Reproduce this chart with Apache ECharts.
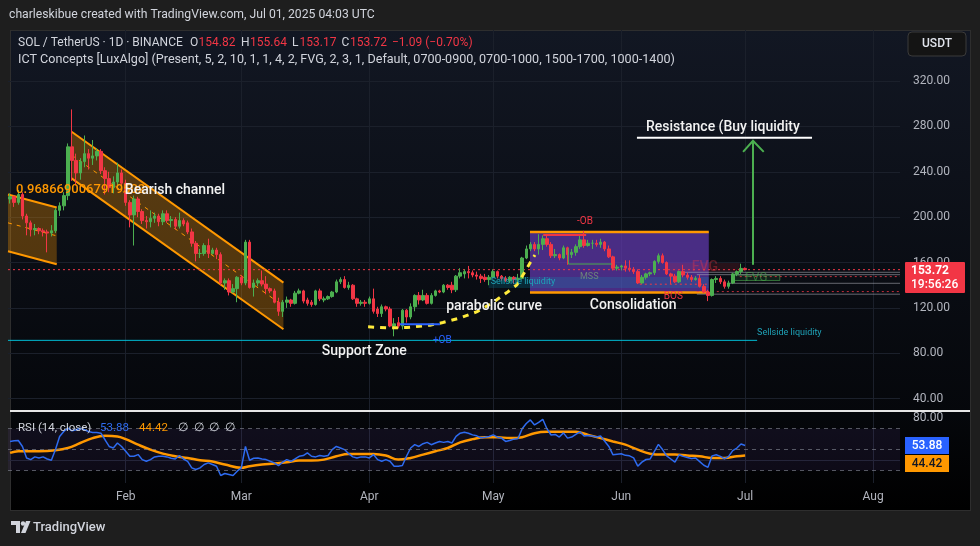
<!DOCTYPE html>
<html>
<head>
<meta charset="utf-8">
<title>SOL / TetherUS 1D</title>
<script src="https://cdn.jsdelivr.net/npm/echarts@6/dist/echarts.min.js"></script>
<style>
  html, body { margin: 0; padding: 0; background: #1e1e1e; }
  #wrap { position: relative; width: 980px; height: 546px; overflow: hidden; }
  #panel { position: absolute; left: 10px; top: 30px; width: 959px; height: 479px;
           border: 1px solid #2e2e2e; background: linear-gradient(#121723, #05070b 80%, #000); }
  #main { position: absolute; left: 0; top: 0; width: 980px; height: 546px; }
</style>
</head>
<body>
<div id="wrap">
  <div id="panel"></div>
  <div id="main"></div>
</div>
<script>
// x = day index, 0 = 2025-01-04 ... 178 = 2025-07-01
var monthTicks = [28, 56, 87, 117, 148, 178, 209];
var monthNames = ["Feb", "Mar", "Apr", "May", "Jun", "Jul", "Aug"];
var priceTicks = [40, 80, 120, 160, 200, 240, 280, 320];

// daily candles [open, close, low, high]
var candles = [
  [216, 218, 212, 221], [218, 213, 209, 219], [213, 220, 211, 224], [220, 201, 198, 222],
  [201, 195, 184, 203], [195, 189, 183, 197], [189, 190, 184, 194], [190, 188, 185, 191],
  [188, 187, 183, 190], [187, 186, 169, 189], [186, 188, 183, 193], [188, 206, 186, 208],
  [206, 210, 201, 213], [210, 219, 206, 222], [219, 262, 215, 265], [262, 250, 232, 295],
  [250, 239, 228, 256], [239, 249, 233, 252], [249, 256, 244, 272], [256, 252, 242, 260],
  [252, 254, 246, 268], [254, 258, 250, 261], [258, 241, 238, 260], [241, 234, 220, 244],
  [234, 226, 222, 240], [226, 231, 221, 236], [231, 239, 226, 248], [239, 230, 226, 242],
  [230, 213, 210, 233], [213, 202, 191, 215], [202, 216, 175, 219], [216, 205, 200, 218],
  [205, 197, 194, 207], [197, 196, 190, 201], [196, 199, 191, 206], [199, 201, 195, 204],
  [201, 196, 192, 203], [196, 203, 193, 206], [203, 197, 195, 206], [197, 198, 191, 201],
  [198, 192, 189, 200], [192, 197, 190, 204], [197, 194, 192, 199], [195, 187, 185, 197],
  [187, 177, 174, 190], [177, 168, 161, 179], [168, 168, 164, 172], [168, 175, 166, 177],
  [175, 168, 164, 181], [168, 171, 167, 173], [171, 167, 163, 173], [167, 142, 140, 169],
  [142, 144, 136, 146], [144, 134, 131, 146], [134, 137, 133, 141], [137, 147, 125, 148],
  [147, 142, 140, 149], [142, 178, 140, 180], [178, 138, 137, 180], [138, 142, 130, 145],
  [142, 144, 139, 146], [144, 141, 139, 153], [141, 137, 132, 148], [137, 135, 133, 138],
  [135, 125, 124, 137], [125, 117, 113, 129], [117, 125, 112, 127], [125, 127, 120, 130],
  [127, 124, 121, 128], [124, 133, 123, 135], [133, 135, 132, 137], [135, 126, 124, 136],
  [127, 124, 122, 129], [125, 123, 121, 127], [123, 135, 122, 136], [135, 128, 126, 137],
  [127, 128, 125, 130], [128, 130, 127, 131], [130, 134, 129, 135], [134, 143, 133, 145],
  [143, 145, 141, 147], [145, 138, 137, 148], [138, 140, 136, 143], [140, 128, 127, 141],
  [128, 124, 121, 129], [124, 125, 122, 127], [125, 124, 121, 127], [124, 128, 123, 130],
  [128, 117, 115, 137], [119, 115, 112, 121], [115, 121, 112, 123], [121, 119, 117, 122],
  [119, 104, 103, 121], [104, 106, 95, 111], [107, 104, 102, 112], [104, 118, 101, 119],
  [118, 112, 107, 119], [112, 121, 110, 124], [121, 131, 117, 132], [131, 127, 123, 134],
  [127, 131, 126, 136], [131, 124, 123, 133], [124, 131, 123, 133], [131, 135, 130, 136],
  [135, 134, 133, 136], [134, 140, 133, 141], [140, 138, 136, 141], [140, 136, 133, 143],
  [136, 148, 134, 149], [148, 151, 146, 155], [150, 152, 146, 154], [152, 151, 146, 157],
  [151, 149, 147, 153], [149, 148, 145, 152], [148, 146, 142, 150], [147, 145, 143, 150],
  [145, 147, 140, 149], [147, 152, 146, 154], [152, 148, 146, 153], [148, 146, 144, 149],
  [146, 144, 143, 148], [144, 147, 142, 148], [147, 145, 141, 148], [145, 146, 143, 150],
  [146, 164, 145, 165], [164, 172, 163, 175], [172, 176, 170, 178], [176, 172, 170, 178],
  [172, 176, 167, 185], [176, 181, 171, 184], [181, 176, 174, 184], [176, 166, 164, 178],
  [166, 167, 164, 172], [167, 164, 162, 168], [164, 173, 163, 175], [173, 167, 158, 174],
  [167, 169, 164, 172], [169, 174, 166, 176], [174, 180, 172, 184], [180, 175, 173, 188],
  [175, 177, 174, 180], [177, 177, 172, 180], [177, 176, 174, 180], [176, 178, 173, 181],
  [178, 172, 170, 179], [172, 165, 164, 175], [165, 155, 153, 166], [155, 156, 153, 158],
  [156, 157, 153, 158], [157, 155, 152, 162], [155, 154, 152, 162], [154, 152, 150, 156],
  [152, 142, 141, 154], [142, 147, 141, 149], [147, 150, 145, 151], [150, 151, 148, 152],
  [151, 161, 149, 162], [161, 166, 159, 168], [166, 160, 159, 168], [160, 150, 149, 161],
  [150, 148, 141, 151], [148, 143, 142, 150], [143, 152, 142, 153], [152, 149, 147, 158],
  [149, 147, 145, 151], [147, 145, 143, 149], [145, 146, 144, 148], [146, 139, 138, 149],
  [139, 134, 133, 141], [134, 131, 126, 136], [131, 145, 130, 146], [145, 146, 142, 148],
  [146, 143, 141, 148], [143, 139, 137, 145], [139, 142, 137, 144], [142, 150, 141, 151],
  [150, 152, 148, 153], [152, 154.82, 150, 159], [154.82, 153.72, 153.17, 155.64]
];

// RSI(14) per day
var rsi = [
  57.8, 58.4, 58.7, 53, 42, 40.4, 43, 42, 43, 41,
  39.8, 50, 62.6, 67.3, 70.5, 68, 69, 70.5, 69, 67.3,
  66.4, 66.4, 65.7, 59.4, 53, 51.5, 56.3, 53, 48.4, 43.6,
  43.6, 45.2, 40.4, 38.8, 40.4, 43, 43.6, 43.6, 43, 41.7,
  41, 44.3, 41, 38.8, 32.5, 30.9, 32.5, 35.7, 37.3, 35.7,
  34.1, 25.2, 27.1, 26.2, 25.2, 29.3, 32.5, 53, 39.8, 41.7,
  42, 41, 40.4, 38.8, 37.3, 34.7, 37.9, 40.4, 38.8, 41,
  43.6, 44.3, 46.8, 43.6, 43, 44.3, 43.6, 44.3, 50, 53,
  51.5, 50, 46.1, 43, 42, 43, 43, 42, 45.2, 40.4,
  38.8, 40.4, 38.8, 34.1, 34.1, 34.7, 43.6, 51.5, 54.7, 53,
  55.6, 56.9, 54.7, 56.3, 57.8, 56.9, 57.8, 56.3, 62.6, 65.7,
  66.7, 65.7, 64.1, 63.2, 61.3, 61.9, 62.6, 64.1, 61.9, 61,
  57.8, 58.7, 60, 60.5, 70, 75, 78.4, 73.6, 76, 79,
  70, 64, 64.5, 62, 66, 61, 62, 64.5, 67, 63,
  63.5, 63, 62, 63, 58, 53, 45, 45.5, 46, 44.5,
  44, 42, 34.1, 38, 40.5, 41, 48, 55, 50, 44,
  41, 38, 45, 43.5, 42.5, 41.5, 42, 38.5, 35, 33,
  44, 45, 43.5, 41, 43.5, 49, 51.5, 55.3, 53.88
];

// RSI-based moving average, read at [day, value]
var rsiMa = [
  [0, 46.8], [2, 48.4], [7, 48.4], [11, 49.3], [14, 51.5], [17, 56.3], [20, 61], [23, 63.2],
  [26, 62.6], [28, 60], [31, 54.7], [34, 49.9], [37, 46.1], [40, 43.6], [43, 42], [46, 39.8],
  [49, 38.5], [52, 35.7], [56, 32.5], [58, 34.1], [61, 35.7], [64, 36.6], [67, 37.9], [70, 39.5],
  [73, 39.5], [76, 40.4], [79, 43.6], [82, 45.8], [85, 45.8], [88, 45.8], [91, 44.3], [94, 40.4],
  [97, 42], [100, 45.2], [103, 48.4], [106, 51.5], [109, 56.9], [112, 60], [115, 61.9], [118, 61.9],
  [121, 61], [124, 61.9], [127, 65.7], [130, 67], [133, 67], [137, 67], [140, 64.1], [143, 61],
  [146, 57.8], [149, 54.7], [152, 49.9], [155, 46.1], [158, 45.2], [161, 45.2], [164, 44.3],
  [167, 43.6], [170, 42], [173, 42], [176, 43.6], [178, 44.42]
];

var lastPrice = 153.72;

// drawings, in [day, price]
var smallChannel = [[-0.5, 220], [11.3, 208.5], [11.3, 158.5], [-0.5, 170]];
var bearChannel = [[14.9, 275.3], [66.2, 142.3], [66.2, 101.2], [14.9, 234.2]];
var consolBox = [[125.9, 186.9], [169.2, 133.5]];
var sellsideZone = [[115.9, 147.3], [169.2, 137.6]];
var fvgRed = [[159.1, 159.6], [176.7, 152]];
var fvgGreen = [[175, 149], [186.4, 144.2]];
var parabola = [
  [86.7, 103.3], [92, 102.4], [96.1, 102.7], [101.7, 104.8], [104.8, 107.1], [109, 111.2],
  [113.1, 116.7], [116.9, 124.7], [120.3, 133.5], [122.7, 140.3], [124.7, 152], [125.9, 159.6], [127.1, 166.7]
];
var supportLine = [[-0.5, 91.4], [180.9, 91.4]];
var resistanceLine = [[151.8, 270], [194.2, 270]];
var arrowShaft = [[179.9, 158], [179.9, 266.5]];
var arrowHead = [[177.5, 257.6], [179.9, 267.3], [182.5, 257.6]];
var obLine = [[129.1, 184.3], [139.5, 184.3]];
var mssLine = [[135.2, 172.6], [135.2, 158.7], [145.7, 158.7]];
var plusObLine = [[94.4, 105.6], [104.1, 105.6]];
var bosLine = [[152.5, 140.9], [168.7, 140.9]];
var grayLevels = [[161.7, 151.4], [166.3, 149.3], [174.1, 141.7], [166.3, 132.1]];
var redLevels = [[176.7, 147.6], [166.3, 134.4]];

var notes = [
  { at: [1.44, 223.9], text: "0.9686690067919502", color: "#ff9800", size: 13 },
  { at: [27.8, 223.9], text: "Bearish channel", color: "#f2f2f2", size: 14 },
  { at: [105.6, 120.9], text: "parabolic curve", color: "#f2f2f2", size: 14 },
  { at: [140.4, 121.8], text: "Consolidation", color: "#f2f2f2", size: 14 },
  { at: [75.5, 81.3], text: "Support Zone", color: "#f2f2f2", size: 14 },
  { at: [154, 279.4], text: "Resistance (Buy liquidity", color: "#f2f2f2", size: 14 },
  { at: [137.3, 196.6], text: "-OB", color: "#f23645", size: 10 },
  { at: [138, 147.3], text: "MSS", color: "rgba(120,160,120,0.75)", size: 9 },
  { at: [158.3, 129.7], text: "BOS", color: "#f23645", size: 10 },
  { at: [102.4, 90.9], text: "+OB", color: "#2962ff", size: 10 },
  { at: [116.4, 142.9], text: "Sellside liquidity", color: "#1fa3b8", size: 9 },
  { at: [180.9, 98], text: "Sellside liquidity", color: "#1fa3b8", size: 9 },
  { at: [165.1, 155.2], text: "FVG", color: "rgba(242,54,69,0.35)", size: 14 },
  { at: [178, 146.4], text: "FVG", color: "rgba(76,175,80,0.55)", size: 12 }
];

var FONT = "Roboto, 'Noto Sans', sans-serif";
var GRID_COLOR = "#1b202b";

function rectPts(box) {
  return [[box[0][0], box[0][1]], [box[1][0], box[0][1]], [box[1][0], box[1][1]], [box[0][0], box[1][1]]];
}

function renderUnder(params, api) {
  var c = function (p) { return api.coord(p); };
  var kids = [];
  [smallChannel, bearChannel].forEach(function (ch) {
    var pts = ch.map(c);
    kids.push({ type: "polygon", shape: { points: pts }, style: { fill: "rgba(255,152,0,0.3)" } });
    kids.push({ type: "line", shape: { x1: pts[0][0], y1: pts[0][1], x2: pts[1][0], y2: pts[1][1] },
      style: { stroke: "#ff9800", lineWidth: 2 } });
    kids.push({ type: "line", shape: { x1: pts[3][0], y1: pts[3][1], x2: pts[2][0], y2: pts[2][1] },
      style: { stroke: "#ff9800", lineWidth: 2 } });
    kids.push({ type: "line", shape: {
        x1: (pts[0][0] + pts[3][0]) / 2, y1: (pts[0][1] + pts[3][1]) / 2,
        x2: (pts[1][0] + pts[2][0]) / 2, y2: (pts[1][1] + pts[2][1]) / 2 },
      style: { stroke: "#ff9800", lineWidth: 1, lineDash: [4, 5] } });
  });
  var box = rectPts(consolBox).map(c);
  kids.push({ type: "polygon", shape: { points: box }, style: { fill: "rgba(100,58,180,0.7)" } });
  kids.push({ type: "line", shape: { x1: box[0][0], y1: box[0][1], x2: box[1][0], y2: box[1][1] },
    style: { stroke: "#ff9800", lineWidth: 2.5 } });
  kids.push({ type: "line", shape: { x1: box[3][0], y1: box[3][1], x2: box[2][0], y2: box[2][1] },
    style: { stroke: "#ff9800", lineWidth: 2.5 } });
  kids.push({ type: "polygon", shape: { points: rectPts(sellsideZone).map(c) }, style: { fill: "rgba(0,160,190,0.2)" } });
  kids.push({ type: "polygon", shape: { points: rectPts(fvgRed).map(c) }, style: { fill: "rgba(242,54,69,0.13)" } });
  kids.push({ type: "polygon", shape: { points: rectPts(fvgGreen).map(c) },
    style: { fill: "rgba(76,175,80,0.12)", stroke: "rgba(76,175,80,0.6)", lineWidth: 1 } });
  grayLevels.forEach(function (g) {
    var a = c(g), b = c([215.5, g[1]]);
    kids.push({ type: "line", shape: { x1: a[0], y1: a[1], x2: b[0], y2: b[1] },
      style: { stroke: "rgba(178,181,190,0.55)", lineWidth: 1 } });
  });
  redLevels.forEach(function (g) {
    var a = c(g), b = c([215.5, g[1]]);
    kids.push({ type: "line", shape: { x1: a[0], y1: a[1], x2: b[0], y2: b[1] },
      style: { stroke: "rgba(242,54,69,0.8)", lineWidth: 1, lineDash: [2, 3] } });
  });
  // last price line
  var l0 = c([-0.5, lastPrice]), l1 = c([215.5, lastPrice]);
  kids.push({ type: "line", shape: { x1: l0[0], y1: l0[1], x2: l1[0], y2: l1[1] },
    style: { stroke: "#f23645", lineWidth: 1, lineDash: [2, 3] } });
  return { type: "group", children: kids };
}

function renderOver(params, api) {
  var c = function (p) { return api.coord(p); };
  var kids = [];
  function pl(points, style) {
    kids.push({ type: "polyline", shape: { points: points.map(c) }, style: Object.assign({ fill: null }, style) });
  }
  pl(parabola, { stroke: "#ffeb3b", lineWidth: 3, lineDash: [6, 6] });
  pl(supportLine, { stroke: "#00bcd4", lineWidth: 1 });
  pl(resistanceLine, { stroke: "#ffffff", lineWidth: 2 });
  pl(arrowShaft, { stroke: "#4caf50", lineWidth: 2 });
  pl(arrowHead, { stroke: "#4caf50", lineWidth: 2 });
  pl(obLine, { stroke: "#f23645", lineWidth: 2 });
  pl(mssLine, { stroke: "#4caf50", lineWidth: 1 });
  pl(plusObLine, { stroke: "#2962ff", lineWidth: 2 });
  pl(bosLine, { stroke: "#f23645", lineWidth: 1, lineDash: [2, 3] });
  notes.forEach(function (n) {
    var p = c(n.at);
    kids.push({ type: "text", x: p[0], y: p[1], style: {
      text: n.text, fill: n.color, font: (n.size >= 13 ? "500 " : "") + n.size + "px " + FONT,
      align: "left", verticalAlign: "middle", textAlign: "left", textVerticalAlign: "middle" } });
  });
  return { type: "group", children: kids };
}

function txt(x, y, s, color, size, weight, align) {
  return { type: "text", x: x, y: y, z: 100, style: {
    text: s, fill: color, font: (weight || "normal") + " " + size + "px " + FONT,
    align: align || "left", verticalAlign: "middle", textAlign: align || "left", textVerticalAlign: "middle" } };
}

var chart = echarts.init(document.getElementById("main"));
chart.setOption({
  backgroundColor: "transparent",
  animation: false,
  grid: [
    { left: 8, right: 80, top: 30, height: 380 },
    { left: 8, right: 80, top: 412, height: 71 }
  ],
  xAxis: [
    { gridIndex: 0, type: "value", min: -0.5, max: 215.5,
      axisLine: { show: false }, axisTick: { show: false, customValues: monthTicks },
      axisLabel: { show: false }, splitLine: { show: true, lineStyle: { color: GRID_COLOR } } },
    { gridIndex: 1, type: "value", min: -0.5, max: 215.5,
      axisLine: { show: false }, axisTick: { show: false, customValues: monthTicks },
      axisLabel: { customValues: monthTicks, color: "#b2b5be", fontSize: 12, fontFamily: FONT, margin: 8,
        formatter: function (v) { return monthNames[monthTicks.indexOf(v)]; } },
      splitLine: { show: true, lineStyle: { color: GRID_COLOR } } }
  ],
  yAxis: [
    { gridIndex: 0, type: "value", position: "right", min: 30, max: 365,
      axisLine: { show: false }, axisTick: { show: false, customValues: priceTicks },
      axisLabel: { customValues: priceTicks, color: "#b2b5be", fontSize: 12, fontFamily: FONT, margin: 13,
        formatter: function (v) { return v.toFixed(2); } },
      splitLine: { show: true, lineStyle: { color: GRID_COLOR } } },
    { gridIndex: 1, type: "value", position: "right", min: 18, max: 86,
      axisLine: { show: false }, axisTick: { show: false, customValues: [40] },
      axisLabel: { customValues: [80], color: "#b2b5be", fontSize: 12, fontFamily: FONT, margin: 13,
        formatter: function (v) { return v.toFixed(2); } },
      splitLine: { show: true, lineStyle: { color: GRID_COLOR } } }
  ],
  series: [
    { type: "custom", name: "zones", xAxisIndex: 0, yAxisIndex: 0, z: 1, silent: true,
      data: [[0, 150]], renderItem: renderUnder },
    { type: "candlestick", name: "SOL/USDT", xAxisIndex: 0, yAxisIndex: 0, z: 3, barWidth: 3,
      data: candles.map(function (c, i) { return [i].concat(c); }),
      itemStyle: { color: "#4caf50", color0: "#f23645", borderColor: "#4caf50", borderColor0: "#f23645", borderWidth: 1 } },
    { type: "custom", name: "drawings", xAxisIndex: 0, yAxisIndex: 0, z: 5, silent: true,
      data: [[0, 150]], renderItem: renderOver },
    { type: "line", name: "RSI", xAxisIndex: 1, yAxisIndex: 1, showSymbol: false, z: 4,
      data: rsi.map(function (v, i) { return [i, v]; }),
      lineStyle: { color: "#2e6bf0", width: 1.5 },
      markArea: { silent: true, itemStyle: { color: "rgba(126,87,194,0.1)" }, data: [[{ yAxis: 30 }, { yAxis: 70 }]] },
      markLine: { silent: true, symbol: "none", label: { show: false },
        lineStyle: { color: "#787b86", type: [4, 4], width: 1, opacity: 0.7 },
        data: [{ yAxis: 70 }, { yAxis: 50 }, { yAxis: 30 }] } },
    { type: "line", name: "RSI MA", xAxisIndex: 1, yAxisIndex: 1, showSymbol: false, smooth: 0.4, z: 3,
      data: rsiMa, lineStyle: { color: "#ff9800", width: 2.5 } }
  ],
  graphic: [
    txt(9, 15, "charleskibue created with TradingView.com, Jul 01, 2025 04:03 UTC", "#d1d4dc", 12.2),
    txt(18, 43, "SOL / TetherUS · 1D · BINANCE", "#d1d4dc", 12),
    txt(190, 43, "O", "#d1d4dc", 12), txt(198.5, 43, "154.82", "#f23645", 12),
    txt(241, 43, "H", "#d1d4dc", 12), txt(250, 43, "155.64", "#f23645", 12),
    txt(292, 43, "L", "#d1d4dc", 12), txt(299.5, 43, "153.17", "#f23645", 12),
    txt(341.5, 43, "C", "#d1d4dc", 12), txt(350, 43, "153.72", "#f23645", 12),
    txt(392, 43, "\u22121.09 (\u22120.70%)", "#f23645", 12),
    txt(18, 60, "ICT Concepts [LuxAlgo] (Present, 5, 2, 10, 1, 1, 4, 2, FVG, 2, 3, 1, Default, 0700-0900, 0700-1000, 1500-1700, 1000-1400)", "#d1d4dc", 12.6),
    { type: "rect", z: 100, shape: { x: 908, y: 32, width: 58, height: 24, r: 4 },
      style: { fill: "#141414", stroke: "#3a3a3a", lineWidth: 1 } },
    txt(937, 44, "USDT", "#e0e3eb", 12, "500", "center"),
    { type: "rect", z: 100, shape: { x: 905, y: 262, width: 60, height: 31, r: 1 }, style: { fill: "#f23645" } },
    txt(911, 270.5, "153.72", "#ffffff", 12, "bold"),
    txt(911, 285, "19:56:26", "#ffffff", 12, "500"),
    { type: "line", z: 100, shape: { x1: 10, y1: 411, x2: 970, y2: 411 }, style: { stroke: "#e6e6e6", lineWidth: 2 } },
    txt(18, 428, "RSI (14, close)", "#d1d4dc", 11.5),
    txt(100, 428, "53.88", "#2e6bf0", 11.5),
    txt(139, 428, "44.42", "#ff9800", 11.5),
    txt(178, 428, "\u2205  \u2205  \u2205  \u2205", "#d1d4dc", 11.5),
    { type: "rect", z: 100, shape: { x: 905, y: 437, width: 44, height: 17 }, style: { fill: "#2962ff" } },
    txt(927, 446, "53.88", "#ffffff", 12, "500", "center"),
    { type: "rect", z: 100, shape: { x: 905, y: 455, width: 44, height: 17 }, style: { fill: "#ff9800" } },
    txt(927, 463.5, "44.42", "#131722", 12, "500", "center"),
    { type: "polygon", z: 100, shape: { points: [[11, 521], [20, 521], [20, 533], [16, 533], [16, 525], [11, 525]] },
      style: { fill: "#d1d4dc" } },
    { type: "circle", z: 100, shape: { cx: 23, cy: 523.5, r: 2.2 }, style: { fill: "#d1d4dc" } },
    { type: "polygon", z: 100, shape: { points: [[26, 521], [30.5, 521], [25.5, 533], [21, 533]] },
      style: { fill: "#d1d4dc" } },
    txt(33, 527.5, "TradingView", "#d1d4dc", 13, "500")
  ]
});
</script>
</body>
</html>
